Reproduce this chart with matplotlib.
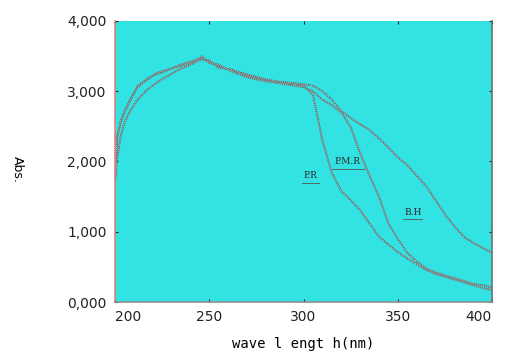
import numpy as np
import matplotlib.pyplot as plt
from matplotlib.ticker import FuncFormatter

# wavelength grid (nm)
wl = [200, 201, 203, 205, 208, 212, 217, 222, 228, 235, 242, 246, 250, 255,
      262, 270, 280, 290, 300, 305, 310, 315, 320, 325, 330, 335, 340, 345,
      350, 355, 360, 365, 370, 375, 380, 385, 390, 395, 400]

# absorbance of each sample
abs_pr = [1.70, 2.35, 2.55, 2.70, 2.88, 3.05, 3.18, 3.24, 3.30, 3.38, 3.44, 3.48, 3.42, 3.36,
          3.30, 3.24, 3.17, 3.12, 3.08, 2.95, 2.30, 1.84, 1.58, 1.45, 1.31, 1.12, 0.93, 0.82,
          0.71, 0.62, 0.54, 0.46, 0.40, 0.36, 0.32, 0.28, 0.24, 0.20, 0.17]
abs_pmr = [1.72, 2.30, 2.58, 2.72, 2.86, 3.08, 3.16, 3.26, 3.31, 3.36, 3.42, 3.45, 3.44, 3.33,
           3.31, 3.22, 3.15, 3.10, 3.06, 3.00, 2.88, 2.80, 2.70, 2.49, 2.12, 1.80, 1.50, 1.12,
           0.90, 0.70, 0.58, 0.48, 0.42, 0.38, 0.34, 0.30, 0.26, 0.24, 0.21]
abs_bh = [1.70, 2.02, 2.35, 2.55, 2.72, 2.88, 3.02, 3.12, 3.22, 3.32, 3.40, 3.50, 3.40, 3.38,
          3.28, 3.20, 3.14, 3.13, 3.10, 3.08, 3.00, 2.88, 2.72, 2.62, 2.53, 2.45, 2.33, 2.20,
          2.06, 1.95, 1.80, 1.65, 1.45, 1.25, 1.08, 0.93, 0.84, 0.77, 0.70]

labels = ['P.R', 'P.M.R', 'B.H']
label_pos = [(303.5, 1.80), (323.5, 2.00), (358, 1.28)]
label_w = [4.5, 8.5, 5.0]   # half-width of underline (nm)

fig = plt.figure(figsize=(5.05, 3.6), dpi=100)
ax = fig.add_axes([0.2277, 0.1611, 0.7466, 0.7806])
ax.set_facecolor('#33e2e2')

for y in [abs_pr, abs_pmr, abs_bh]:
    ax.plot(wl, y, color='#5f7070', lw=1.2)
    ax.plot(wl, y, color='#e0f0f0', lw=0.6, linestyle=(0, (1, 1.5)))

for lab, (x, y), w in zip(labels, label_pos, label_w):
    ax.text(x, y, lab, fontsize=6.5, family='DejaVu Serif', color='#2a2a2a',
            ha='center', va='center')
    ax.plot([x - w, x + w], [y - 0.1, y - 0.1], color='#555555', lw=0.6)

ax.set_xlim(200, 400)
ax.set_ylim(0, 4)
ax.set_xticks([200, 250, 300, 350, 400])
ax.set_yticks([0, 1, 2, 3, 4])
ax.yaxis.set_major_formatter(FuncFormatter(lambda v, p: f'{v:.3f}'.replace('.', ',')))
ax.tick_params(direction='in', length=2, labelsize=10, colors='#222222', pad=6,
               right=True, top=True)
xl = ax.get_xticklabels()
xl[0].set_ha('left')
xl[-1].set_ha('right')

ax.spines['left'].set_color('#e08080')
ax.spines['bottom'].set_color('#909090')
ax.spines['right'].set_color('#707070')
ax.spines['top'].set_visible(False)
for s in ax.spines.values():
    s.set_linewidth(1.2)

ax.set_xlabel('wave l engt h(nm)', fontsize=10, family='DejaVu Sans Mono', labelpad=9)
ax.set_ylabel('Abs.', fontsize=9, rotation=-90, labelpad=36, va='center')
ax.yaxis.set_label_coords(-0.26, 0.47)

fig.savefig('out.png', dpi=100)
